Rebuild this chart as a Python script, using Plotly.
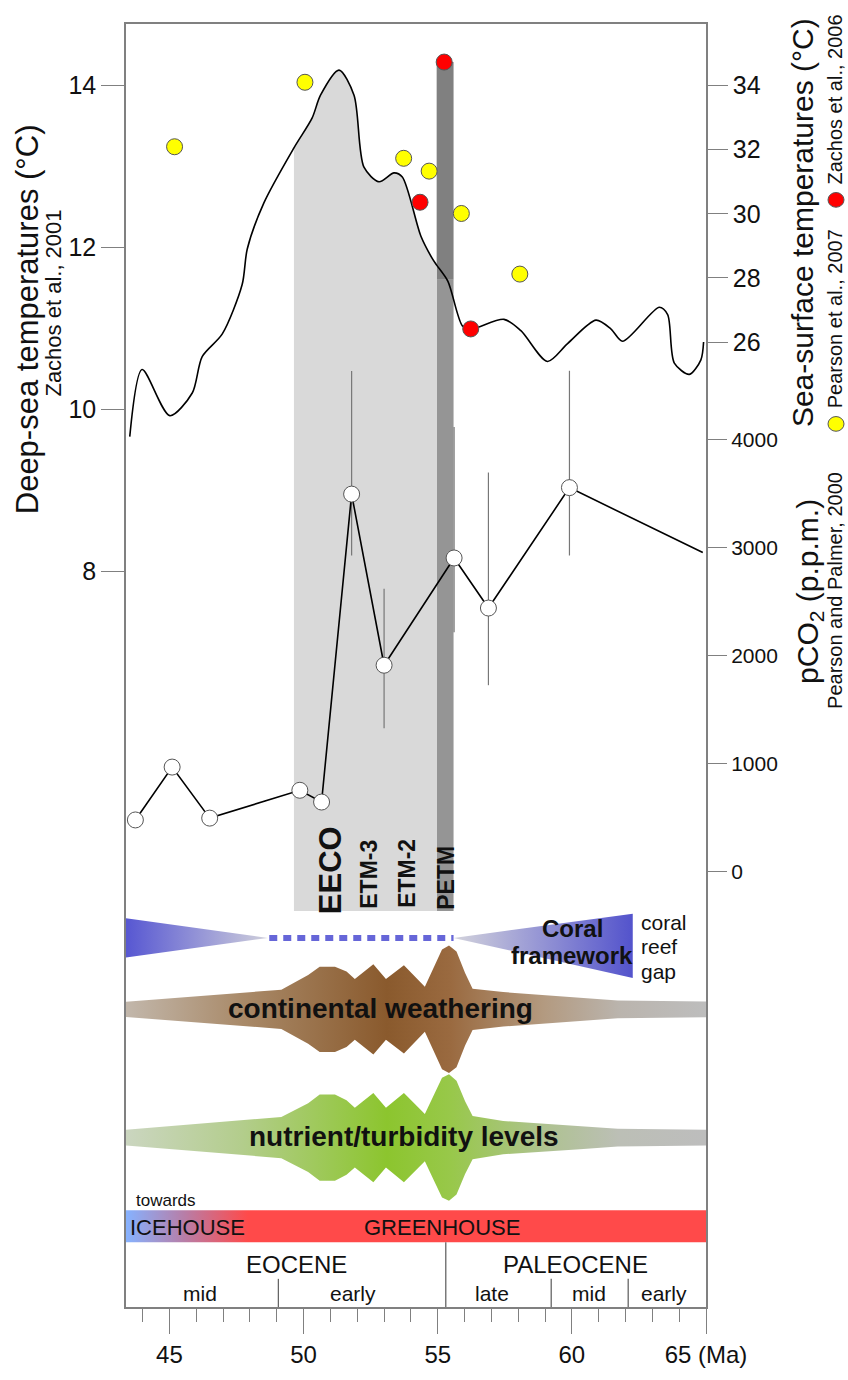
import plotly.graph_objects as go

FONT = "Liberation Sans, Arial, sans-serif"
AX = "#808080"

# ---------------- data ----------------
# Deep-sea temperature curve (Zachos et al., 2001): age (Ma) vs temperature (°C)
deep_ma = [43.52, 43.98, 45.01, 45.85, 46.22, 46.97, 47.71, 47.90, 48.52, 49.64, 50.32, 50.63,
           51.32, 51.88, 52.25, 52.81, 53.37, 53.68, 54.37, 54.80, 54.96, 55.38, 55.92, 56.23,
           57.47, 58.10, 59.09, 59.84, 60.90, 61.46, 61.89, 63.26, 63.57, 63.82, 64.38, 64.81, 64.91]
deep_temp = [9.66, 10.49, 9.92, 10.20, 10.65, 10.93, 11.54, 11.98, 12.55, 13.23, 13.60, 13.88,
             14.19, 13.88, 12.99, 12.81, 12.92, 12.87, 12.14, 11.86, 11.78, 11.58, 11.03, 10.99,
             11.11, 10.97, 10.59, 10.81, 11.10, 10.99, 10.84, 11.26, 11.17, 10.57, 10.43, 10.61, 10.83]

# Sea-surface temperatures
pearson_ma = [45.19, 50.05, 53.73, 54.68, 55.88, 58.06]
pearson_sst = [32.09, 34.10, 31.73, 31.33, 30.01, 28.12]
zachos06_ma = [55.24, 54.34, 56.23]
zachos06_sst = [34.73, 30.36, 26.41]

# pCO2 (Pearson and Palmer, 2000)
co2_ma = [43.73, 45.10, 46.50, 49.86, 50.67, 51.79, 53.00, 55.61, 56.89, 59.91, 64.88]
co2_ppm = [475, 965, 492, 750, 641, 3495, 1909, 2903, 2439, 3555, 2953]
co2_err_up = [0, 0, 0, 0, 0, 1141, 709, 1215, 1256, 1083, 0]
co2_err_down = [0, 0, 0, 0, 0, 569, 583, 689, 715, 629, 0]
co2_n_markers = 10  # the last value has no symbol (line runs to the axis)

# Hyperthermal events
eeco_window = [49.6, 54.97]
petm_window = [54.96, 55.59]
band_floor_temp = 3.8
petm_split_temp = 11.6
petm_top_temp = 14.29
event_labels = ["<b>EECO</b>", "<b>ETM-3</b>", "<b>ETM-2</b>", "<b>PETM</b>"]
event_ma = [51.01, 52.45, 53.87, 55.30]
event_size = [31, 23, 23, 23]

# Schematic panel: relative half-widths
weath_ma = [43.38, 49.17, 50.17, 50.60, 51.17, 51.60, 51.91, 52.60, 53.07, 53.74, 54.52, 54.88,
            55.16, 55.42, 55.70, 56.02, 56.30, 57.44, 60.30, 61.71, 65.0]
weath_width = [7.8, 20, 35, 43.5, 43.5, 38.5, 31, 46, 31, 45, 23, 45, 61, 65, 59, 37, 21, 17.6, 12, 9, 8]
nutr_ma = [43.38, 49.17, 50.17, 50.60, 51.17, 51.60, 51.91, 52.60, 53.07, 53.74, 54.52, 54.88,
           55.16, 55.42, 55.70, 56.02, 56.30, 57.44, 60.30, 61.71, 65.0]
nutr_width = [8, 21, 35, 44, 44, 38, 30.5, 45.5, 30.5, 45.5, 24, 45, 61, 64.5, 58, 37, 22, 17, 12, 9, 8]
coral_left_ma = [43.38, 48.67]
coral_left_width = [20, 0]
coral_gap_ma = [48.72, 55.59]
coral_right_ma = [55.59, 62.27]
coral_right_up = [0, 24.7]
coral_right_down = [0, 41]

# Stratigraphy
epoch_names = ["EOCENE", "PALEOCENE"]
epoch_label_ma = [49.72, 60.13]
epoch_boundary = 55.30
sub_names = ["mid", "early", "late", "mid", "early"]
sub_label_ma = [46.12, 51.83, 57.03, 60.63, 63.43]
sub_boundaries = [49.06, 59.23, 62.10]
x_ticks = [45, 50, 55, 60, 65]
x_ticktext = ["45", "50", "55", "60", "65 (Ma)"]

# ---------------- layout constants ----------------
W, H = 848, 1380
ML, MR, MT, MB = 126, 142, 24, 48
PW, PH = W - ML - MR, H - MT - MB
XR = [43.38, 65.0]
ROW_CORAL, ROW_WEATH, ROW_NUTR = 376.3, 303.5, 172.7
BAR_TOP, BAR_BOT = 98.7, 66.0
ROW_EPOCH, ROW_SUB, SUB_TOP = 43.7, 13.7, 28.7


def px(xp):
    return (xp - ML) / PW


def py(yp):
    return (H - MB - yp) / PH


fig = go.Figure()


# ---- schematic panel (y4) ----
def band(xs, center, widths, colorscale):
    xx = list(xs) + list(xs)[::-1]
    yy = [center + w for w in widths] + [center - w for w in widths][::-1]
    fig.add_trace(go.Scatter(x=xx, y=yy, yaxis="y4", mode="lines", fill="toself",
                             line=dict(width=0), fillgradient=dict(type="horizontal", colorscale=colorscale),
                             hoverinfo="skip", showlegend=False))


band(weath_ma, ROW_WEATH, weath_width,
     [[0, "#c2b7ab"], [0.2, "#a98a69"], [0.45, "#8a5a2d"], [0.56, "#9a6a40"],
      [0.72, "#b39a80"], [0.85, "#bab4ad"], [1, "#bdbdbd"]])
band(nutr_ma, ROW_NUTR, nutr_width,
     [[0, "#cbd6c0"], [0.2, "#b3cd8c"], [0.45, "#8cc52e"], [0.56, "#98c84a"],
      [0.72, "#aec290"], [0.85, "#bcbfb6"], [1, "#bdbdbd"]])

# coral wedges
fig.add_trace(go.Scatter(
    x=[coral_left_ma[0], coral_left_ma[1], coral_left_ma[0]],
    y=[ROW_CORAL + coral_left_width[0], ROW_CORAL + coral_left_width[1], ROW_CORAL - coral_left_width[0]],
    yaxis="y4", mode="lines", fill="toself", line=dict(width=0),
    fillgradient=dict(type="horizontal", colorscale=[[0, "#5757d2"], [1, "#cfcfdb"]]),
    hoverinfo="skip", showlegend=False))
fig.add_trace(go.Scatter(
    x=[coral_right_ma[0], coral_right_ma[1], coral_right_ma[1]],
    y=[ROW_CORAL + coral_right_up[0], ROW_CORAL + coral_right_up[1], ROW_CORAL - coral_right_down[1]],
    yaxis="y4", mode="lines", fill="toself", line=dict(width=0),
    fillgradient=dict(type="horizontal", colorscale=[[0, "#d3d3dc"], [1, "#5353cc"]]),
    hoverinfo="skip", showlegend=False))
fig.add_trace(go.Scatter(x=coral_gap_ma, y=[ROW_CORAL, ROW_CORAL], yaxis="y4", mode="lines",
                         line=dict(color="#6666d8", width=6, dash="8px,6px"),
                         hoverinfo="skip", showlegend=False))

# ICEHOUSE / GREENHOUSE bar
fig.add_trace(go.Scatter(x=[XR[0], XR[1], XR[1], XR[0], XR[0]],
                         y=[BAR_TOP, BAR_TOP, BAR_BOT, BAR_BOT, BAR_TOP],
                         yaxis="y4", mode="lines", fill="toself", line=dict(width=0),
                         fillgradient=dict(type="horizontal",
                                           colorscale=[[0, "#86b2ff"], [0.1, "#b77ea8"], [0.21, "#ff4a4a"], [1, "#ff4a4a"]]),
                         hoverinfo="skip", showlegend=False))

# ---- gray EECO fill under the curve ----
sub_x = [m for m in deep_ma if eeco_window[0] <= m <= eeco_window[1]]
sub_y = [t for m, t in zip(deep_ma, deep_temp) if eeco_window[0] <= m <= eeco_window[1]]
fig.add_trace(go.Scatter(x=[sub_x[0], sub_x[-1]], y=[band_floor_temp, band_floor_temp], mode="lines",
                         line=dict(width=0), hoverinfo="skip", showlegend=False))
fig.add_trace(go.Scatter(x=sub_x, y=sub_y, mode="lines", fill="tonexty", fillcolor="#d9d9d9",
                         line=dict(width=0, shape="spline", smoothing=0.8), hoverinfo="skip", showlegend=False))

# deep-sea curve
fig.add_trace(go.Scatter(x=deep_ma, y=deep_temp, mode="lines",
                         line=dict(color="black", width=1.6, shape="spline", smoothing=0.8),
                         name="Deep-sea temperature", showlegend=False))

# pCO2: line with error bars, then opaque symbols on top
fig.add_trace(go.Scatter(x=co2_ma, y=co2_ppm, yaxis="y3", mode="lines",
                         line=dict(color="black", width=1.6),
                         error_y=dict(type="data", symmetric=False, array=co2_err_up, arrayminus=co2_err_down,
                                      color="#777", thickness=1.2, width=0),
                         name="pCO2", showlegend=False))
fig.add_trace(go.Scatter(x=co2_ma[:co2_n_markers], y=co2_ppm[:co2_n_markers], yaxis="y3", mode="markers",
                         marker=dict(size=16, color="white", opacity=1, line=dict(color="#555", width=1)),
                         name="pCO2 samples", showlegend=False))

# SST points
fig.add_trace(go.Scatter(x=pearson_ma, y=pearson_sst, yaxis="y2", mode="markers",
                         marker=dict(size=16, color="#ffff00", line=dict(color="#555", width=1)),
                         name="Pearson et al., 2007", showlegend=False))
fig.add_trace(go.Scatter(x=zachos06_ma, y=zachos06_sst, yaxis="y2", mode="markers",
                         marker=dict(size=16, color="#ff0000", line=dict(color="#555", width=1)),
                         name="Zachos et al., 2006", showlegend=False))

shapes = []
# PETM band
shapes.append(dict(type="rect", xref="x", yref="y", x0=petm_window[0], x1=petm_window[1],
                   y0=band_floor_temp, y1=petm_split_temp, fillcolor="#959595", line=dict(width=0), layer="below"))
shapes.append(dict(type="rect", xref="x", yref="y", x0=petm_window[0], x1=petm_window[1],
                   y0=petm_split_temp, y1=petm_top_temp, fillcolor="#808080", line=dict(width=0), layer="below"))
# stratigraphy dividers
shapes.append(dict(type="line", xref="x", yref="y4", x0=epoch_boundary, x1=epoch_boundary,
                   y0=0, y1=BAR_BOT, line=dict(color="#666", width=1.3)))
for b in sub_boundaries:
    shapes.append(dict(type="line", xref="x", yref="y4", x0=b, x1=b, y0=0, y1=SUB_TOP,
                       line=dict(color="#666", width=1.3)))
# legend circles
r_x, r_y = 8 / PW, 7.5 / PH
for cx, cy, col in [(836, 431.7, "#ffff00"), (836, 203.3, "#ff0000")]:
    shapes.append(dict(type="circle", xref="paper", yref="paper",
                       x0=px(cx) - r_x, x1=px(cx) + r_x, y0=py(cy) - r_y, y1=py(cy) + r_y,
                       fillcolor=col, line=dict(color="#555", width=1)))

ann = []


def A(text, x, y, size, xref="x", yref="y4", angle=0, xanchor="center", color="#111"):
    ann.append(dict(text=text, x=x, y=y, xref=xref, yref=yref, showarrow=False, textangle=angle,
                    xanchor=xanchor, yanchor="middle", font=dict(family=FONT, size=size, color=color)))


# event labels
event_y = [445, 441, 442, 437.4]
for lab, m, s, yy in zip(event_labels, event_ma, event_size, event_y):
    A(lab, m, yy, s, angle=-90)

# schematic labels
A("<b>Coral</b>", 60.01, 386.3, 24)
A("<b>framework</b>", 60.01, 358.7, 24)
A("coral", 62.5, 392, 21, xanchor="left")
A("reef", 62.5, 367.7, 21, xanchor="left")
A("gap", 62.5, 342, 21, xanchor="left")
A("<b>continental weathering</b>", 52.86, ROW_WEATH + 0.8, 28)
A("<b>nutrient/turbidity levels</b>", 53.73, ROW_NUTR + 1.0, 28)
A("towards", 43.68, 108.7, 17, xanchor="left")
A("ICEHOUSE", 45.67, 81.3, 22)
A("GREENHOUSE", 55.15, 81.3, 22)
for n, m in zip(epoch_names, epoch_label_ma):
    A(n, m, ROW_EPOCH, 24)
for n, m in zip(sub_names, sub_label_ma):
    A(n, m, ROW_SUB, 21)

# axis titles
A("Deep-sea temperatures (°C)", px(27), py(325), 31, xref="paper", yref="paper", angle=-90)
A("Zachos et al., 2001", px(54), py(309), 22, xref="paper", yref="paper", angle=-90)
A("Sea-surface temperatures (°C)", px(802), py(227), 30, xref="paper", yref="paper", angle=-90)
A("Pearson et al., 2007", px(835), py(325), 20, xref="paper", yref="paper", angle=-90)
A("Zachos et al., 2006", px(835), py(101), 20, xref="paper", yref="paper", angle=-90)
A("pCO<sub>2</sub> (p.p.m.)", px(810), py(603), 30, xref="paper", yref="paper", angle=-90)
A("Pearson and Palmer, 2000", px(835), py(602), 20, xref="paper", yref="paper", angle=-90)

fig.update_layout(
    width=W, height=H, margin=dict(l=ML, r=MR, t=MT, b=MB, pad=0),
    paper_bgcolor="white", plot_bgcolor="white", showlegend=False,
    font=dict(family=FONT, color="#111"),
    xaxis=dict(range=XR, showgrid=False, zeroline=False, showline=True, linecolor=AX, linewidth=1.5,
               mirror=True, ticks="outside", tickvals=x_ticks, ticktext=x_ticktext, ticklen=25,
               tickcolor=AX, tickwidth=1.3, tickfont=dict(size=24, color="#111"),
               minor=dict(dtick=1, tick0=45, ticks="outside", ticklen=13, tickcolor=AX, tickwidth=1.2)),
    yaxis=dict(range=[-1.095, 14.76], showgrid=False, zeroline=False, showline=True, linecolor=AX,
               linewidth=1.5, ticks="outside", tickvals=[8, 10, 12, 14], ticklen=23, tickcolor=AX,
               tickwidth=1.3, tickfont=dict(size=25, color="#111")),
    yaxis2=dict(range=[-4.083, 35.917], overlaying="y", side="right", anchor="x", showgrid=False,
                zeroline=False, showline=True, linecolor=AX, linewidth=1.5, ticks="outside",
                tickvals=[26, 28, 30, 32, 34], ticklen=20, tickcolor=AX, tickwidth=1.3,
                tickfont=dict(size=25, color="#111")),
    yaxis3=dict(range=[-4039, 7852], overlaying="y", side="right", anchor="x", showgrid=False,
                zeroline=False, showline=False, ticks="outside", tickvals=[0, 1000, 2000, 3000, 4000],
                tickformat="d", ticklen=20, tickcolor=AX, tickwidth=1.3,
                tickfont=dict(size=21, color="#111")),
    yaxis4=dict(range=[0, PH], overlaying="y", visible=False),
    shapes=shapes, annotations=ann,
)

fig.write_html("out.html")
